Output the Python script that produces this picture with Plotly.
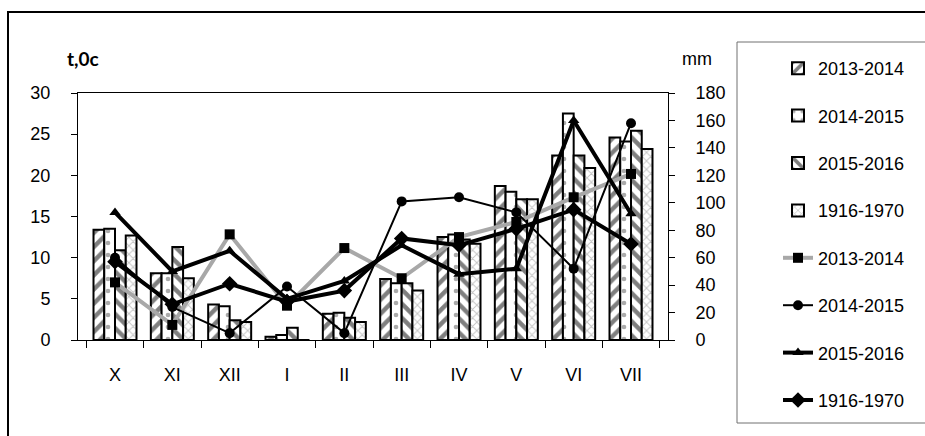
import plotly.graph_objects as go

months = ["X", "XI", "XII", "I", "II", "III", "IV", "V", "VI", "VII"]
seasons = ["2013-2014", "2014-2015", "2015-2016", "1916-1970"]

# temperature (left axis, °C) – bars
t_2013 = [13.4, 8.1, 4.3, 0.4, 3.2, 7.4, 12.5, 18.7, 22.4, 24.6]
t_2014 = [13.5, 8.1, 4.1, 0.6, 3.3, 6.9, 12.8, 18.0, 27.5, 24.1]
t_2015 = [10.9, 11.3, 2.4, 1.5, 2.7, 6.9, 12.2, 17.1, 22.4, 25.4]
t_1916 = [12.7, 7.5, 2.2, -0.8, 2.2, 6.0, 11.7, 17.1, 20.9, 23.2]

# precipitation (right axis, mm) – lines
p_2013 = [42, 11, 77, 25, 67, 45, 75, 86, 104, 121]
p_2014 = [60, 24, 5, 39, 5, 101, 104, 93, 52, 158]
p_2015 = [93, 50, 65, 30, 43, 69, 48, 52, 160, 92]
p_1916 = [57, 26, 41, 28, 36, 74, 69, 81, 95, 70]

FONT = "Liberation Sans, Arial, sans-serif"
FS = 18

bar_data = [t_2013, t_2014, t_2015, t_1916]
bar_patterns = [
    dict(shape="/", fgcolor="black", bgcolor="white", size=10, solidity=0.45),
    dict(shape=".", fgcolor="#555555", bgcolor="white", size=12, solidity=0.12),
    dict(shape="\\", fgcolor="black", bgcolor="white", size=10, solidity=0.45),
    dict(shape="x", fgcolor="#8a8a8a", bgcolor="white", size=6, solidity=0.3),
]

fig = go.Figure()
for i, (name, vals, pat) in enumerate(zip(seasons, bar_data, bar_patterns)):
    fig.add_trace(go.Bar(
        x=months, y=vals, name=name, yaxis="y",
        marker=dict(color="white", line=dict(color="black", width=2), pattern=pat),
        legendgroup=f"b{i}",
    ))

line_data = [p_2013, p_2014, p_2015, p_1916]
line_styles = [
    dict(color="#a8a8a8", width=4, dash="solid"),
    dict(color="black", width=2),
    dict(color="black", width=4),
    dict(color="black", width=4),
]
marker_styles = [
    dict(symbol="square", size=10, color="black"),
    dict(symbol="circle", size=10, color="black"),
    dict(symbol="triangle-up", size=10, color="black"),
    dict(symbol="diamond", size=12, color="black"),
]
for i, (name, vals, ls, ms) in enumerate(zip(seasons, line_data, line_styles, marker_styles)):
    fig.add_trace(go.Scatter(
        x=months, y=vals, name=name, yaxis="y2", mode="lines+markers",
        line=ls, marker=ms, legendgroup=f"l{i}",
    ))

fig.update_layout(
    width=925, height=436,
    margin=dict(l=78, r=257, t=93, b=96, autoexpand=False),
    paper_bgcolor="white", plot_bgcolor="white",
    font=dict(family=FONT, size=FS, color="black"),
    barmode="group", bargap=0.25, bargroupgap=0,
    xaxis=dict(
        type="category", showline=True, linecolor="black", linewidth=1, mirror=True,
        ticks="outside", tickson="boundaries", ticklen=7, tickcolor="black",
        showgrid=False, ticklabelstandoff=18, automargin=False,
    ),
    yaxis=dict(
        range=[0, 30], dtick=5, showline=True, linecolor="black", linewidth=1,
        ticks="outside", ticklen=6, tickcolor="black", showgrid=False, zeroline=False,
        ticklabelstandoff=17, automargin=False,
    ),
    yaxis2=dict(
        range=[0, 180], dtick=20, overlaying="y", side="right", showline=True,
        linecolor="black", linewidth=1, ticks="outside", ticklen=6, tickcolor="black",
        showgrid=False, zeroline=False, ticklabelstandoff=17, automargin=False,
    ),
    legend=dict(
        xref="container", yref="container",
        x=778 / 925, y=1 - 50 / 436, xanchor="left", yanchor="top",
        bgcolor="rgba(0,0,0,0)", borderwidth=0,
        tracegroupgap=21, font=dict(size=FS),
        traceorder="grouped", maxheight=1.0,
    ),
    annotations=[
        dict(text="<b>t,0c</b>", x=(83 - 78) / 590, y=(340 - 58) / 247, xref="paper", yref="paper",
             xanchor="center", yanchor="middle",
             showarrow=False, font=dict(family="Lato, Open Sans, sans-serif", size=19)),
        dict(text="mm", x=(697 - 78) / 590, y=(340 - 59) / 247, xref="paper", yref="paper",
             xanchor="center", yanchor="middle",
             showarrow=False, font=dict(size=FS)),
    ],
    shapes=[
        # outer chart border
        dict(type="rect", xref="paper", yref="paper",
             x0=(8 - 78) / 590, x1=(940 - 78) / 590, y0=(340 - 450) / 247, y1=(340 - 12) / 247,
             line=dict(color="black", width=2), layer="below"),
        # legend box
        dict(type="rect", xref="paper", yref="paper",
             x0=(737 - 78) / 590, x1=(940 - 78) / 590, y0=(340 - 423) / 247, y1=(340 - 42) / 247,
             line=dict(color="#707070", width=1), layer="below"),
    ],
)

fig.write_html(
    "out.html",
    config={"displayModeBar": False},
    post_script="document.body.style.margin='0px';document.body.style.overflow='hidden';",
)
